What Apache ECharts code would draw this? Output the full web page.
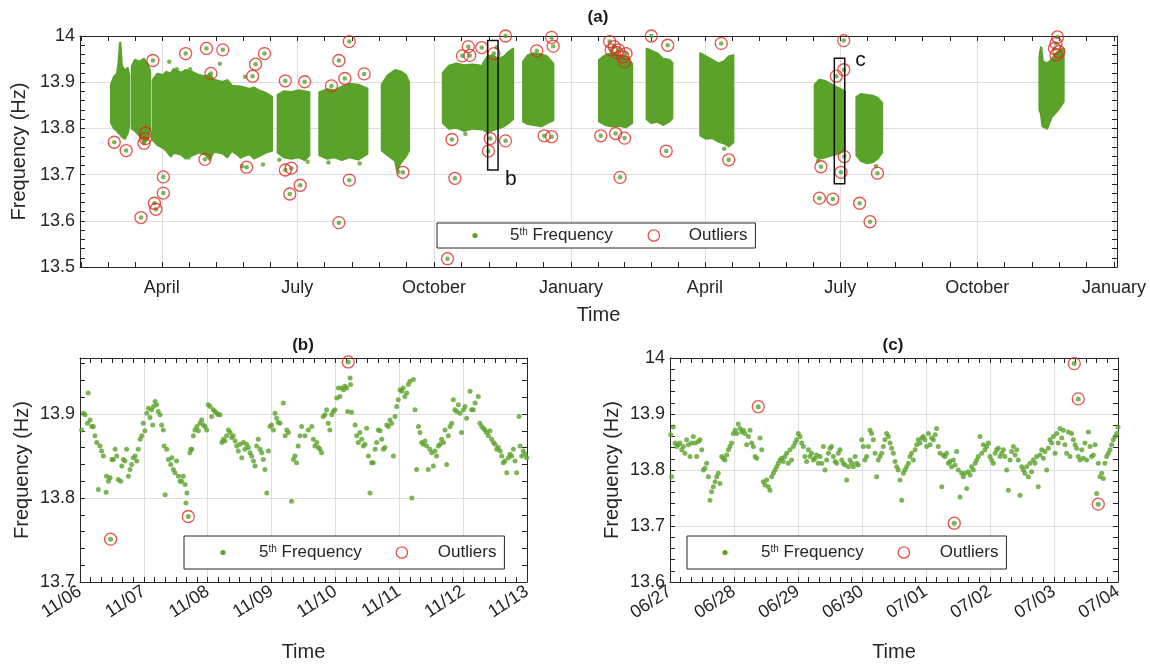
<!DOCTYPE html>
<html><head><meta charset="utf-8">
<script src="https://cdn.jsdelivr.net/npm/echarts@6/dist/echarts.min.js"></script>
<style>html,body{margin:0;padding:0;background:#fff}#c{width:1150px;height:664px}</style>
</head><body><div id="c"></div>
<script>
// ---------------- DATA ----------------
// Panel (a) x range and quarter tick labels
const rangeA = ['2017-02-05', '2019-01-03'];
const quarterBounds = ['2017-01-01','2017-04-01','2017-07-01','2017-10-01','2018-01-01','2018-04-01','2018-07-01','2018-10-01','2019-01-01'];
const quarterTicks = ['2017-04-01','2017-07-01','2017-10-01','2018-01-01','2018-04-01','2018-07-01','2018-10-01','2019-01-01'];
const monthNames = ['January','February','March','April','May','June','July','August','September','October','November','December'];

// Panel (a) dense 5th-frequency clouds: [date, upper edge, lower edge]
const cloud01 = [['2017-02-26',13.895,13.812],['2017-02-28',13.912,13.800],['2017-03-02',13.918,13.795],['2017-03-03',13.940,13.790],['2017-03-04',13.985,13.788],['2017-03-05',13.935,13.783],['2017-03-07',13.925,13.778],['2017-03-09',13.930,13.790],['2017-03-10',13.915,13.805]];
const cloud02 = [['2017-03-12',13.935,13.800],['2017-03-14',13.948,13.795],['2017-03-17',13.944,13.785],['2017-03-20',13.950,13.770],['2017-03-22',13.940,13.775],['2017-03-24',13.925,13.795]];
const cloud03 = [['2017-03-26',13.905,13.775],['2017-03-29',13.918,13.765],['2017-04-02',13.915,13.758],['2017-04-04',13.922,13.752],['2017-04-07',13.918,13.740],['2017-04-09',13.928,13.748],['2017-04-14',13.920,13.744],['2017-04-17',13.926,13.735],['2017-04-20',13.924,13.740],['2017-04-26',13.915,13.748],['2017-05-01',13.912,13.742],['2017-05-03',13.918,13.733],['2017-05-06',13.905,13.750],['2017-05-12',13.900,13.746],['2017-05-15',13.904,13.738],['2017-05-18',13.892,13.752],['2017-05-24',13.890,13.738],['2017-05-30',13.885,13.745],['2017-06-02',13.888,13.735],['2017-06-05',13.882,13.740],['2017-06-10',13.876,13.748],['2017-06-14',13.868,13.752]];
const cloud04 = [['2017-06-18',13.872,13.748],['2017-06-22',13.880,13.738],['2017-06-27',13.878,13.735],['2017-07-02',13.882,13.738],['2017-07-06',13.880,13.732],['2017-07-09',13.878,13.742]];
const cloud05 = [['2017-07-16',13.878,13.742],['2017-07-21',13.884,13.735],['2017-07-26',13.882,13.738],['2017-07-31',13.890,13.732],['2017-08-05',13.896,13.738],['2017-08-11',13.894,13.733],['2017-08-17',13.886,13.745]];
const cloud06 = [['2017-08-27',13.895,13.752],['2017-08-31',13.915,13.742],['2017-09-05',13.926,13.730],['2017-09-06',13.925,13.712],['2017-09-09',13.922,13.728],['2017-09-12',13.915,13.740],['2017-09-14',13.900,13.752]];
const cloud07 = [['2017-10-07',13.920,13.812],['2017-10-11',13.935,13.800],['2017-10-16',13.940,13.802],['2017-10-21',13.936,13.795],['2017-10-27',13.938,13.800],['2017-11-02',13.935,13.798]];
const cloud08 = [['2017-11-03',13.940,13.798],['2017-11-06',13.955,13.792],['2017-11-09',13.958,13.796],['2017-11-13',13.950,13.800],['2017-11-17',13.955,13.805],['2017-11-20',13.965,13.812],['2017-11-23',13.972,13.820]];
const cloud09 = [['2017-11-30',13.945,13.815],['2017-12-03',13.958,13.810],['2017-12-07',13.962,13.808],['2017-12-12',13.960,13.805],['2017-12-16',13.955,13.812],['2017-12-20',13.940,13.818]];
const cloud10 = [['2018-01-20',13.948,13.815],['2018-01-24',13.958,13.808],['2018-01-28',13.962,13.805],['2018-02-02',13.958,13.806],['2018-02-07',13.955,13.803],['2018-02-11',13.940,13.812]];
const cloud11 = [['2018-02-21',13.972,13.820],['2018-02-24',13.968,13.812],['2018-02-28',13.962,13.815],['2018-03-04',13.950,13.808],['2018-03-08',13.948,13.815],['2018-03-10',13.942,13.822]];
const cloud12 = [['2018-03-29',13.962,13.785],['2018-04-02',13.955,13.778],['2018-04-06',13.948,13.780],['2018-04-10',13.940,13.772],['2018-04-14',13.945,13.768],['2018-04-17',13.955,13.762],['2018-04-20',13.958,13.770]];
const cloud13 = [['2018-06-14',13.895,13.742],['2018-06-17',13.905,13.735],['2018-06-21',13.902,13.738],['2018-06-25',13.895,13.742],['2018-06-29',13.888,13.745],['2018-07-04',13.880,13.752]];
const cloud14 = [['2018-07-12',13.868,13.742],['2018-07-15',13.874,13.730],['2018-07-19',13.872,13.725],['2018-07-23',13.870,13.728],['2018-07-26',13.866,13.735],['2018-07-29',13.855,13.748]];
const cloud15 = [['2018-11-12',13.955,13.840],['2018-11-13',13.975,13.832],['2018-11-14',13.945,13.805],['2018-11-17',13.940,13.800],['2018-11-20',13.948,13.825],['2018-11-23',13.962,13.835],['2018-11-26',13.970,13.848],['2018-11-28',13.972,13.858]];

// Panel (a) isolated readings just outside the dense clouds: [date, Hz]
const strayA = [['2017-04-06',13.944],['2017-04-11',13.928],['2017-04-20',13.928],['2017-05-10',13.940],['2017-05-27',13.912],['2017-05-24',13.739],['2017-06-08',13.722],['2017-04-19',13.737],['2017-05-25',13.718],['2017-06-19',13.732],['2017-07-08',13.728],['2017-07-22',13.726],['2017-08-12',13.724],['2017-09-07',13.706],['2017-10-22',13.788],['2017-11-12',13.975],['2017-12-16',13.946],['2018-04-14',13.756],['2018-06-16',13.730],['2018-07-25',13.718]];

// Panel (a) outliers: [date, Hz]
const outliersA = [['2017-02-28',13.770],['2017-03-08',13.752],['2017-03-26',13.947],['2017-03-21',13.790],['2017-03-21',13.778],['2017-03-20',13.768],['2017-03-18',13.607],['2017-03-27',13.638],['2017-03-28',13.625],['2017-04-02',13.695],['2017-04-02',13.660],['2017-04-17',13.962],['2017-04-30',13.733],['2017-05-01',13.973],['2017-05-04',13.919],['2017-05-12',13.970],['2017-05-28',13.716],['2017-06-01',13.913],['2017-06-03',13.939],['2017-06-09',13.962],['2017-06-23',13.903],['2017-06-23',13.710],['2017-06-27',13.714],['2017-06-26',13.658],['2017-07-03',13.677],['2017-07-06',13.901],['2017-07-24',13.892],['2017-07-29',13.947],['2017-07-29',13.596],['2017-08-02',13.908],['2017-08-05',13.688],['2017-08-05',13.988],['2017-08-15',13.918],['2017-09-10',13.705],['2017-10-10',13.518],['2017-10-13',13.776],['2017-10-15',13.692],['2017-10-20',13.957],['2017-10-24',13.977],['2017-10-25',13.958],['2017-11-02',13.975],['2017-11-06 12:00',13.751],['2017-11-07 17:00',13.778],['2017-11-10 05:00',13.962],['2017-11-18',13.773],['2017-11-18',14.000],['2017-12-09',13.968],['2017-12-14',13.784],['2017-12-19',13.782],['2017-12-19',13.997],['2017-12-20',13.978],['2018-01-21',13.784],['2018-01-27',13.988],['2018-01-28',13.970],['2018-01-31',13.789],['2018-01-30',13.977],['2018-02-01',13.964],['2018-02-02',13.970],['2018-02-05',13.955],['2018-02-06',13.779],['2018-02-03',13.694],['2018-02-07',13.962],['2018-02-06',13.944],['2018-02-24',14.000],['2018-03-06',13.751],['2018-03-07',13.980],['2018-04-12',13.984],['2018-04-17',13.732],['2018-06-17',13.649],['2018-06-18',13.717],['2018-06-26',13.647],['2018-06-28 09:00',13.913],['2018-07-01 11:00',13.705],['2018-07-03 08:00',13.990],['2018-07-03 09:00',13.927],['2018-07-03 16:00',13.739],['2018-07-14',13.638],['2018-07-21',13.598],['2018-07-26',13.703],['2018-11-24',13.998],['2018-11-23',13.984],['2018-11-22',13.973],['2018-11-25',13.966],['2018-11-23',13.959]];

// Zoom boxes drawn on (a): [start, end, low, high]
const boxB = ['2017-11-06','2017-11-13',13.71,13.99];
const boxC = ['2018-06-27','2018-07-04',13.68,13.952];

// Panel (b): hours after 2017-11-06 00:00, Hz
const rangeB = ['2017-11-06','2017-11-13'];
const dataB = [[0.6,13.881],[1.3,13.901],[1.9,13.899],[2.8,13.889],[3.1,13.925],[3.8,13.893],[4.4,13.885],[5.0,13.885],[5.6,13.874],[6.3,13.866],[6.9,13.810],[7.5,13.862],[8.1,13.856],[8.8,13.850],[9.8,13.807],[10.0,13.826],[10.7,13.820],[11.3,13.824],[12.0,13.846],[12.5,13.846],[13.2,13.858],[13.8,13.850],[14.4,13.822],[15.3,13.820],[15.7,13.838],[16.3,13.846],[16.9,13.844],[17.5,13.858],[18.2,13.826],[18.8,13.834],[19.4,13.840],[20.0,13.848],[20.7,13.850],[21.3,13.844],[21.9,13.858],[22.6,13.870],[23.2,13.874],[23.8,13.889],[24.4,13.880],[25.1,13.901],[25.7,13.907],[26.3,13.896],[26.9,13.905],[27.3,13.887],[27.6,13.909],[28.2,13.915],[28.8,13.911],[29.4,13.903],[30.1,13.899],[30.7,13.887],[31.3,13.881],[31.6,13.862],[32.0,13.804],[32.6,13.858],[33.2,13.846],[34.1,13.840],[34.5,13.848],[35.1,13.834],[35.7,13.830],[36.3,13.844],[37.0,13.826],[37.6,13.820],[38.2,13.820],[38.8,13.826],[39.5,13.816],[39.8,13.794],[40.2,13.806],[41.3,13.854],[41.7,13.858],[42.0,13.858],[42.6,13.874],[43.2,13.881],[43.9,13.885],[44.5,13.880],[45.1,13.889],[45.7,13.893],[46.4,13.887],[47.0,13.885],[47.6,13.881],[48.2,13.911],[48.9,13.909],[49.5,13.897],[50.1,13.905],[50.7,13.903],[51.4,13.901],[52.0,13.899],[52.6,13.899],[53.3,13.866],[53.9,13.870],[54.5,13.868],[55.1,13.874],[55.8,13.881],[56.4,13.878],[57.0,13.872],[57.6,13.874],[58.3,13.868],[58.9,13.862],[59.5,13.856],[60.1,13.864],[60.8,13.848],[61.4,13.866],[62.0,13.858],[62.6,13.864],[63.3,13.860],[63.9,13.854],[64.5,13.850],[65.2,13.844],[65.8,13.838],[66.4,13.862],[67.0,13.870],[67.7,13.858],[68.3,13.854],[68.9,13.846],[69.5,13.834],[70.2,13.806],[70.8,13.856],[71.4,13.885],[72.0,13.887],[72.7,13.881],[73.3,13.901],[73.9,13.895],[74.5,13.890],[75.2,13.889],[76.4,13.913],[77.1,13.874],[77.7,13.881],[78.3,13.878],[79.5,13.796],[80.2,13.846],[80.8,13.850],[81.4,13.842],[82.0,13.862],[82.7,13.874],[83.3,13.885],[84.6,13.874],[85.8,13.881],[87.1,13.885],[87.7,13.870],[88.3,13.862],[89.0,13.866],[89.6,13.860],[90.2,13.858],[90.8,13.854],[91.4,13.897],[92.1,13.899],[92.7,13.905],[93.3,13.889],[93.9,13.881],[94.6,13.899],[95.2,13.903],[95.8,13.905],[96.5,13.919],[97.1,13.931],[97.7,13.921],[98.3,13.931],[99.0,13.929],[99.6,13.933],[100.2,13.931],[100.6,13.903],[101.5,13.943],[101.7,13.935],[102.1,13.902],[103.4,13.887],[104.0,13.874],[104.6,13.866],[105.2,13.878],[105.9,13.870],[106.5,13.862],[107.1,13.864],[107.7,13.883],[108.4,13.850],[109.0,13.806],[109.6,13.842],[110.2,13.842],[110.9,13.858],[111.5,13.866],[112.1,13.881],[112.8,13.880],[113.4,13.870],[114.0,13.858],[114.6,13.860],[115.3,13.887],[115.9,13.885],[116.5,13.893],[117.1,13.889],[117.8,13.850],[118.4,13.897],[119.0,13.909],[119.6,13.917],[120.3,13.929],[120.9,13.927],[121.5,13.931],[122.1,13.921],[122.8,13.925],[123.4,13.935],[124.0,13.939],[124.7,13.800],[125.3,13.941],[125.9,13.905],[126.5,13.834],[127.2,13.885],[127.8,13.878],[128.4,13.866],[129.0,13.864],[129.7,13.868],[130.3,13.862],[130.9,13.834],[131.5,13.858],[132.2,13.854],[132.8,13.838],[133.4,13.856],[134.0,13.850],[134.7,13.862],[135.3,13.864],[135.9,13.870],[136.6,13.866],[137.2,13.881],[137.8,13.840],[138.4,13.874],[139.1,13.885],[139.7,13.889],[140.3,13.917],[140.9,13.905],[141.6,13.903],[142.2,13.911],[142.8,13.901],[143.4,13.878],[144.1,13.905],[144.7,13.909],[145.3,13.895],[146.6,13.927],[147.2,13.905],[147.8,13.905],[148.5,13.913],[149.7,13.921],[150.3,13.889],[151.0,13.885],[151.6,13.883],[152.2,13.881],[152.8,13.878],[153.5,13.874],[154.1,13.880],[154.7,13.870],[155.4,13.866],[156.0,13.864],[156.6,13.858],[157.2,13.860],[157.9,13.856],[158.5,13.850],[159.1,13.842],[159.7,13.844],[160.4,13.830],[161.0,13.848],[161.6,13.852],[162.2,13.850],[162.9,13.858],[163.5,13.844],[164.1,13.830],[165.0,13.897],[165.4,13.862],[166.0,13.850],[166.6,13.856],[167.3,13.852],[167.9,13.848]];
const outliersB = [[11.5,13.751],[40.7,13.778],[100.8,13.962]];

// Panel (c): hours after 2018-06-27 00:00, Hz
const rangeC = ['2018-06-27','2018-07-04'];
const dataC = [[0.25,13.863],[0.6,13.788],[1.25,13.877],[1.9,13.848],[2.5,13.842],[3.1,13.845],[3.75,13.848],[4.4,13.836],[5.0,13.842],[5.6,13.830],[6.25,13.854],[6.9,13.845],[7.5,13.824],[8.1,13.848],[8.75,13.860],[9.4,13.848],[10.0,13.824],[10.6,13.851],[11.25,13.854],[11.9,13.836],[12.5,13.800],[13.1,13.803],[13.75,13.812],[14.4,13.788],[15.0,13.746],[15.6,13.761],[16.25,13.770],[16.9,13.779],[17.5,13.788],[18.1,13.794],[18.75,13.776],[19.4,13.824],[20.0,13.821],[20.6,13.818],[21.25,13.827],[21.9,13.836],[22.5,13.842],[23.1,13.848],[23.75,13.865],[24.4,13.871],[25.0,13.865],[25.6,13.882],[26.25,13.874],[26.9,13.868],[27.5,13.871],[28.1,13.865],[28.75,13.845],[29.4,13.860],[30.0,13.871],[30.6,13.848],[31.25,13.842],[31.9,13.824],[32.5,13.821],[33.75,13.857],[34.4,13.836],[35.0,13.779],[35.6,13.773],[36.25,13.782],[36.9,13.770],[37.5,13.764],[38.1,13.788],[38.75,13.794],[39.4,13.800],[40.0,13.806],[40.6,13.812],[41.25,13.818],[41.9,13.821],[42.5,13.815],[43.1,13.824],[43.75,13.830],[44.4,13.812],[45.0,13.836],[45.6,13.818],[46.25,13.842],[46.9,13.848],[47.5,13.854],[48.1,13.865],[48.75,13.860],[49.4,13.848],[50.0,13.842],[50.6,13.824],[51.25,13.815],[51.9,13.836],[52.5,13.824],[53.1,13.830],[53.75,13.818],[54.4,13.821],[55.0,13.827],[55.6,13.812],[56.25,13.824],[56.9,13.812],[57.5,13.842],[58.1,13.800],[58.75,13.818],[59.4,13.830],[60.0,13.839],[60.6,13.842],[61.25,13.824],[61.9,13.815],[62.5,13.812],[63.1,13.830],[63.75,13.836],[64.4,13.818],[65.0,13.812],[65.6,13.809],[66.25,13.782],[66.9,13.806],[67.5,13.818],[68.1,13.812],[68.75,13.806],[69.4,13.824],[70.0,13.812],[70.6,13.809],[71.9,13.854],[72.5,13.842],[73.1,13.818],[73.75,13.824],[74.4,13.842],[75.0,13.871],[75.6,13.865],[76.25,13.854],[76.9,13.830],[77.5,13.788],[78.1,13.818],[78.75,13.824],[79.4,13.830],[80.0,13.842],[80.6,13.854],[81.25,13.865],[81.9,13.860],[82.5,13.848],[83.1,13.839],[83.75,13.830],[84.4,13.815],[85.0,13.806],[85.6,13.800],[86.25,13.782],[86.9,13.746],[87.5,13.794],[88.1,13.800],[88.75,13.806],[89.4,13.812],[90.0,13.824],[90.6,13.830],[91.25,13.818],[91.9,13.836],[92.5,13.845],[93.1,13.854],[93.75,13.848],[94.4,13.857],[95.0,13.860],[95.6,13.854],[96.25,13.842],[96.9,13.865],[97.5,13.845],[98.1,13.857],[98.75,13.854],[99.4,13.863],[100.0,13.874],[100.6,13.842],[101.25,13.830],[101.9,13.770],[102.5,13.827],[103.1,13.824],[103.75,13.830],[104.4,13.812],[105.0,13.815],[105.6,13.806],[106.25,13.818],[106.9,13.809],[107.5,13.833],[108.1,13.800],[108.75,13.752],[109.4,13.794],[110.0,13.788],[110.6,13.794],[111.25,13.767],[111.9,13.797],[112.5,13.791],[113.1,13.806],[113.75,13.800],[114.4,13.812],[115.0,13.818],[115.6,13.824],[116.25,13.860],[116.9,13.830],[117.5,13.845],[118.1,13.836],[118.75,13.842],[119.4,13.848],[120.0,13.824],[120.6,13.818],[121.25,13.812],[121.9,13.830],[122.5,13.836],[123.1,13.839],[123.75,13.824],[124.4,13.830],[125.0,13.836],[125.6,13.824],[126.25,13.800],[126.9,13.764],[127.5,13.818],[128.1,13.833],[128.75,13.842],[129.4,13.827],[130.0,13.836],[130.6,13.818],[131.25,13.755],[131.9,13.806],[132.5,13.800],[133.1,13.794],[133.75,13.806],[134.4,13.788],[135.0,13.812],[135.6,13.797],[136.25,13.818],[136.9,13.812],[137.5,13.824],[138.1,13.770],[138.75,13.827],[139.4,13.836],[140.0,13.821],[140.6,13.833],[141.25,13.800],[141.9,13.839],[142.5,13.854],[143.1,13.848],[143.75,13.860],[144.4,13.830],[145.0,13.865],[145.6,13.848],[146.25,13.874],[146.9,13.857],[147.5,13.871],[148.1,13.845],[148.75,13.830],[149.4,13.868],[150.0,13.824],[150.6,13.865],[151.25,13.854],[151.9,13.845],[152.5,13.839],[153.1,13.824],[153.75,13.818],[154.4,13.836],[155.0,13.821],[155.6,13.848],[156.25,13.818],[156.9,13.868],[157.5,13.842],[158.1,13.824],[158.75,13.827],[159.4,13.845],[160.0,13.758],[160.6,13.812],[161.25,13.788],[161.9,13.794],[162.5,13.785],[163.1,13.812],[163.75,13.824],[164.4,13.830],[165.0,13.836],[165.6,13.845],[166.25,13.854],[166.9,13.860],[167.5,13.865],[168.0,13.877]];
const outliersC = [[33.1,13.913],[106.6,13.705],[151.6,13.990],[153.1,13.927],[160.6,13.739]];

// ---------------- BUILD ----------------
const HOUR = 3600000, DAY = 86400000;
function utc(s){ const p = s.split(/[- :]/).map(Number); return Date.UTC(p[0], p[1]-1, p[2], p[3]||0, p[4]||0); }
const GREEN = '#5ba22a', RED = '#e3261f', AX = '#262626', GRIDC = '#dedede';
const FONT = 'Liberation Sans';

const A0 = utc(rangeA[0]), A1 = utc(rangeA[1]);
const qT = quarterTicks.map(utc);
const qB = quarterBounds.map(utc);
const tickA = [];
for (let i = 0; i < qB.length - 1; i++) {
  for (let k = 0; k < 5; k++) { const v = qB[i] + k * (qB[i+1] - qB[i]) / 5; if (v >= A0 && v <= A1) tickA.push(v); }
}
if (qB[qB.length-1] <= A1) tickA.push(qB[qB.length-1]);

const clouds = [cloud01,cloud02,cloud03,cloud04,cloud05,cloud06,cloud07,cloud08,cloud09,cloud10,cloud11,cloud12,cloud13,cloud14,cloud15];
const cloudT = clouds.map(c => c.map(r => [utc(r[0]), r[1], r[2]]));
const cloudItems = cloudT.map((c, i) => [c[0][0], c[0][1], i]);

const ptsA = outliersA.map(d => [utc(d[0]), d[1]]);
const strayPts = strayA.map(d => [utc(d[0]), d[1]]);
const B0 = utc(rangeB[0]), B1 = utc(rangeB[1]);
const C0 = utc(rangeC[0]), C1 = utc(rangeC[1]);
const ptsB = dataB.map(d => [B0 + d[0]*HOUR, d[1]]);
const outB = outliersB.map(d => [B0 + d[0]*HOUR, d[1]]);
const ptsC = dataC.map(d => [C0 + d[0]*HOUR, d[1]]);
const outC = outliersC.map(d => [C0 + d[0]*HOUR, d[1]]);

const pad = n => (n < 10 ? '0' : '') + n;
const mmdd = v => { const d = new Date(v); return pad(d.getUTCMonth()+1) + '/' + pad(d.getUTCDate()); };

const dotIcon = 'image://data:image/svg+xml;utf8,' + encodeURIComponent("<svg xmlns='http://www.w3.org/2000/svg' width='30' height='14' viewBox='0 0 30 14'><circle cx='15' cy='7' r='2.6' fill='" + GREEN + "'/></svg>");
const ringIcon = 'image://data:image/svg+xml;utf8,' + encodeURIComponent("<svg xmlns='http://www.w3.org/2000/svg' width='30' height='14' viewBox='0 0 30 14'><circle cx='15' cy='7' r='5.7' fill='none' stroke='" + RED + "' stroke-width='1.3'/></svg>");

const lblStyle = { color: AX, fontFamily: FONT, fontSize: 18 };
const nameStyle = { color: AX, fontFamily: FONT, fontSize: 20 };
const tick = extra => Object.assign({ show: true, inside: true, length: 5, lineStyle: { color: AX, width: 1 } }, extra || {});
const line = { show: true, onZero: false, lineStyle: { color: AX, width: 1 } };
const split = { show: true, lineStyle: { color: GRIDC, width: 1 } };
const minor = n => ({ show: true, splitNumber: n, length: 5, lineStyle: { color: AX, width: 1 } });

function legendAt(left, top, padV, padL, gapText, gap) {
  return {
    left: left, top: top, orient: 'horizontal',
    data: [{ name: '5th Frequency', icon: dotIcon }, { name: 'Outliers', icon: ringIcon }],
    itemWidth: 30, itemHeight: 14, itemGap: gap,
    padding: [padV, 8, padV, padL],
    borderColor: AX, borderWidth: 1, borderRadius: 0, backgroundColor: '#fff',
    selectedMode: false,
    formatter: n => n === '5th Frequency' ? '5{sup|th} Frequency' : n,
    textStyle: { color: AX, fontFamily: FONT, fontSize: 17, padding: [0, 0, 0, gapText],
      rich: { sup: { fontSize: 10, fontFamily: FONT, color: AX, verticalAlign: 'top', lineHeight: 12 } } }
  };
}

const option = {
  animation: false,
  useUTC: true,
  backgroundColor: '#fff',
  grid: [
    { left: 80, top: 36, width: 1037, height: 231, outerBoundsMode: 'none' },
    { left: 80, top: 358, width: 447, height: 224, outerBoundsMode: 'none' },
    { left: 670, top: 358, width: 448, height: 224, outerBoundsMode: 'none' }
  ],
  xAxis: [
    { gridIndex: 0, type: 'value', min: A0, max: A1, position: 'bottom', axisLine: line,
      axisTick: tick({ customValues: tickA }),
      axisLabel: Object.assign({ customValues: qT, margin: 12, formatter: v => monthNames[new Date(v).getUTCMonth()] }, lblStyle),
      splitLine: { show: false },
      name: 'Time', nameLocation: 'middle', nameGap: 38, nameMoveOverlap: false, nameTextStyle: nameStyle },
    { gridIndex: 0, type: 'value', min: A0, max: A1, position: 'top', axisLine: line,
      axisTick: tick({ customValues: tickA }), axisLabel: { show: false }, splitLine: { show: false } },
    { gridIndex: 1, type: 'value', min: B0, max: B1, interval: DAY, position: 'bottom', axisLine: line,
      axisTick: tick(), minorTick: minor(6), splitLine: split,
      axisLabel: Object.assign({ rotate: 33, margin: 8, formatter: mmdd }, lblStyle),
      name: 'Time', nameLocation: 'middle', nameGap: 60, nameMoveOverlap: false, nameTextStyle: nameStyle },
    { gridIndex: 1, type: 'value', min: B0, max: B1, interval: DAY, position: 'top', axisLine: line,
      axisTick: tick(), minorTick: minor(6), axisLabel: { show: false }, splitLine: { show: false } },
    { gridIndex: 2, type: 'value', min: C0, max: C1, interval: DAY, position: 'bottom', axisLine: line,
      axisTick: tick(), minorTick: minor(6), splitLine: split,
      axisLabel: Object.assign({ rotate: 33, margin: 8, formatter: mmdd }, lblStyle),
      name: 'Time', nameLocation: 'middle', nameGap: 60, nameMoveOverlap: false, nameTextStyle: nameStyle },
    { gridIndex: 2, type: 'value', min: C0, max: C1, interval: DAY, position: 'top', axisLine: line,
      axisTick: tick(), minorTick: minor(6), axisLabel: { show: false }, splitLine: { show: false } }
  ],
  yAxis: [
    { gridIndex: 0, type: 'value', min: 13.5, max: 14, interval: 0.1, position: 'left', axisLine: line,
      axisTick: tick(), minorTick: minor(5), splitLine: split,
      axisLabel: Object.assign({ margin: 5 }, lblStyle),
      name: 'Frequency (Hz)', nameLocation: 'middle', nameGap: 48, nameTextStyle: nameStyle },
    { gridIndex: 0, type: 'value', min: 13.5, max: 14, interval: 0.1, position: 'right', axisLine: line,
      axisTick: tick(), minorTick: minor(5), axisLabel: { show: false }, splitLine: { show: false } },
    { gridIndex: 1, type: 'value', min: 13.7, max: 13.9667, interval: 0.1, position: 'left', axisLine: line,
      axisTick: tick(), minorTick: minor(5), splitLine: split,
      axisLabel: Object.assign({ margin: 5, showMaxLabel: false }, lblStyle),
      name: 'Frequency (Hz)', nameLocation: 'middle', nameGap: 48, nameTextStyle: nameStyle },
    { gridIndex: 1, type: 'value', min: 13.7, max: 13.9667, interval: 0.1, position: 'right', axisLine: line,
      axisTick: tick(), minorTick: minor(5), axisLabel: { show: false }, splitLine: { show: false } },
    { gridIndex: 2, type: 'value', min: 13.6, max: 14, interval: 0.1, position: 'left', axisLine: line,
      axisTick: tick(), minorTick: minor(5), splitLine: split,
      axisLabel: Object.assign({ margin: 5 }, lblStyle),
      name: 'Frequency (Hz)', nameLocation: 'middle', nameGap: 48, nameTextStyle: nameStyle },
    { gridIndex: 2, type: 'value', min: 13.6, max: 14, interval: 0.1, position: 'right', axisLine: line,
      axisTick: tick(), minorTick: minor(5), axisLabel: { show: false }, splitLine: { show: false } }
  ],
  legend: [
    legendAt(437, 223, 4, 23, 15, 26),
    legendAt(184, 536, 8, 24, 16, 25),
    legendAt(687, 536, 8, 23, 16, 25)
  ],
  graphic: [
    { type: 'text', x: 598, y: 17, style: { text: '(a)', font: 'bold 17px "Liberation Sans"', fill: '#1a1a1a', textAlign: 'center', textVerticalAlign: 'middle' } },
    { type: 'text', x: 303, y: 345, style: { text: '(b)', font: 'bold 17px "Liberation Sans"', fill: '#1a1a1a', textAlign: 'center', textVerticalAlign: 'middle' } },
    { type: 'text', x: 893, y: 345, style: { text: '(c)', font: 'bold 17px "Liberation Sans"', fill: '#1a1a1a', textAlign: 'center', textVerticalAlign: 'middle' } }
  ],
  series: [
    { type: 'scatter', name: 'gridA', xAxisIndex: 0, yAxisIndex: 0, data: [], silent: true, z: 0,
      markLine: { silent: true, z: 0, symbol: ['none', 'none'], label: { show: false },
        lineStyle: { color: GRIDC, type: 'solid', width: 1 }, data: qT.map(t => ({ xAxis: t })) } },
    { type: 'custom', name: '5th Frequency', xAxisIndex: 0, yAxisIndex: 0, data: cloudItems, z: 2, clip: true,
      renderItem: (params, api) => {
        const c = cloudT[api.value(2)];
        const pts = [];
        for (let i = 0; i < c.length; i++) pts.push(api.coord([c[i][0], c[i][1]]));
        for (let i = c.length - 1; i >= 0; i--) pts.push(api.coord([c[i][0], c[i][2]]));
        return { type: 'polygon', shape: { points: pts },
          style: { fill: GREEN, stroke: GREEN, lineWidth: 2.5, lineJoin: 'round' } };
      } },
    { type: 'scatter', name: '5th Frequency', xAxisIndex: 0, yAxisIndex: 0, data: strayPts.concat(ptsA), symbolSize: 4.5, z: 3,
      itemStyle: { color: GREEN } },
    { type: 'scatter', name: 'Outliers', xAxisIndex: 0, yAxisIndex: 0, data: ptsA, symbolSize: 12, z: 4,
      itemStyle: { color: 'rgba(0,0,0,0)', borderColor: RED, borderWidth: 1.3 } },
    { type: 'scatter', name: 'boxes', xAxisIndex: 0, yAxisIndex: 0, data: [], z: 5, silent: true,
      markArea: { silent: true, z: 5, itemStyle: { color: 'rgba(0,0,0,0)', borderColor: '#111', borderWidth: 1.5 },
        data: [
          [{ xAxis: utc(boxB[0]), yAxis: boxB[2], label: { show: true, formatter: 'b', position: ['100%', '100%'], offset: [12, 8], align: 'center', verticalAlign: 'middle', fontSize: 21, fontFamily: FONT, color: '#111' } },
           { xAxis: utc(boxB[1]), yAxis: boxB[3] }],
          [{ xAxis: utc(boxC[0]), yAxis: boxC[2], label: { show: true, formatter: 'c', position: ['100%', 0], offset: [15, 3], align: 'center', verticalAlign: 'middle', fontSize: 21, fontFamily: FONT, color: '#111' } },
           { xAxis: utc(boxC[1]), yAxis: boxC[3] }]
        ] } },
    { type: 'scatter', name: '5th Frequency', xAxisIndex: 2, yAxisIndex: 2, data: ptsB.concat(outB), symbolSize: 5, z: 3, itemStyle: { color: GREEN } },
    { type: 'scatter', name: 'Outliers', xAxisIndex: 2, yAxisIndex: 2, data: outB, symbolSize: 12, z: 4,
      itemStyle: { color: 'rgba(0,0,0,0)', borderColor: RED, borderWidth: 1.3 } },
    { type: 'scatter', name: '5th Frequency', xAxisIndex: 4, yAxisIndex: 4, data: ptsC.concat(outC), symbolSize: 5, z: 3, itemStyle: { color: GREEN } },
    { type: 'scatter', name: 'Outliers', xAxisIndex: 4, yAxisIndex: 4, data: outC, symbolSize: 12, z: 4,
      itemStyle: { color: 'rgba(0,0,0,0)', borderColor: RED, borderWidth: 1.3 } }
  ]
};
const chart = echarts.init(document.getElementById('c'), null, { renderer: 'canvas' });
chart.setOption(option);
</script></body></html>
